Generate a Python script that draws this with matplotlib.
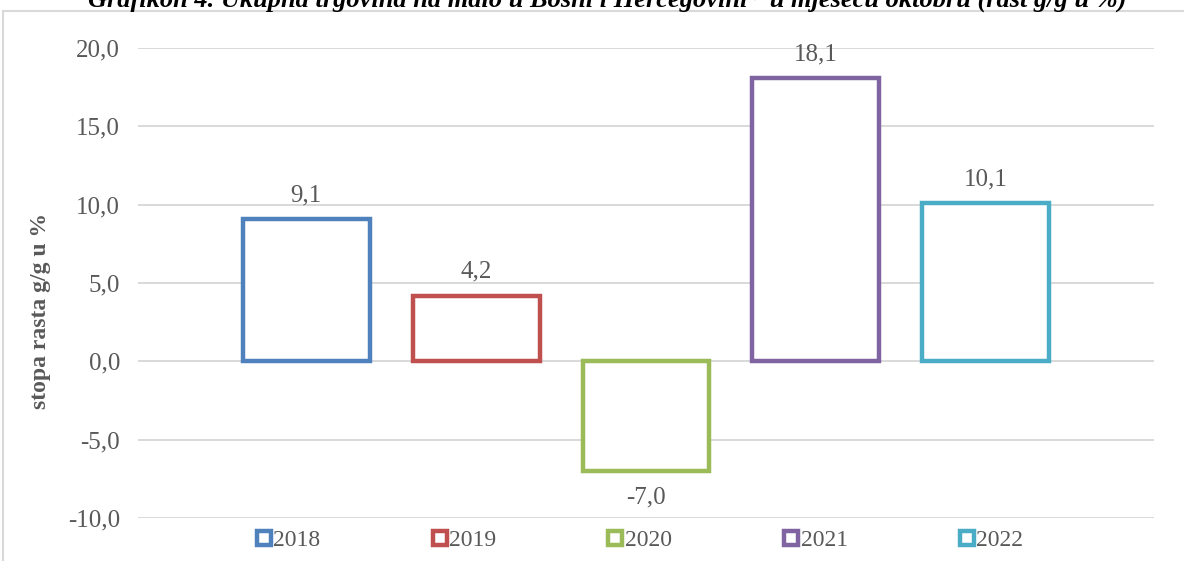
import numpy as np
import matplotlib.pyplot as plt
from matplotlib.patches import Rectangle
from matplotlib.lines import Line2D

years = ['2018', '2019', '2020', '2021', '2022']
values = [9.1, 4.2, -7.0, 18.1, 10.1]
colors = ['#4F81BD', '#C0504D', '#9BBB59', '#8064A2', '#4BACC6']
yticks = [-10, -5, 0, 5, 10, 15, 20]

plt.rcParams['font.family'] = ['Liberation Serif', 'DejaVu Serif']
grey = '#595959'

fig = plt.figure(figsize=(11.84, 5.61), dpi=100)
ax = fig.add_axes([138/1184, 1-518/561, (1154-138)/1184, (518-48)/561])

x = np.arange(len(years))
ax.bar(x, values, width=0.747, color='white', edgecolor=colors, linewidth=3.2, zorder=3)

# value labels above / below the bars
for xi, v in zip(x, values):
    off = 17 if v >= 0 else -19
    ax.annotate(f'{v:.1f}'.replace('.', ','), (xi, v), xytext=(0, off),
                textcoords='offset points', ha='center', va='center',
                fontsize=18, color=grey)

ax.set_xlim(-0.99, 4.99)
ax.set_ylim(-10, 20)
ax.set_yticks(yticks)
ax.set_yticklabels([f'{t:.1f}'.replace('.', ',') for t in yticks], fontsize=18, color=grey)
ax.set_xticks([])
ax.tick_params(axis='y', length=0, pad=13)
ax.grid(axis='y', color='#D9D9D9', linewidth=1.4, zorder=0)
for s in ax.spines.values():
    s.set_visible(False)
ax.set_ylabel('stopa rasta g/g u %', fontsize=17, fontweight='bold', color=grey)
ax.yaxis.set_label_coords(41/1184, 1-311/561, transform=fig.transFigure)
ax.yaxis.label.set_va('center')

handles = [Line2D([], [], linestyle='none', marker='s', markersize=10,
                  markerfacecolor='white', markeredgecolor=c, markeredgewidth=3.2)
           for c in colors]
fig.legend(handles, years, loc='center', bbox_to_anchor=(640/1184, 1-540/561), ncol=5,
           frameon=False, fontsize=17, labelcolor=grey, handlelength=0.6,
           handletextpad=0.1, columnspacing=4.75)

# outer chart frame
fig.patches.append(Rectangle((3/1184, -0.1), 1.2, 1.1 - 11/561,
                             transform=fig.transFigure, fill=False,
                             edgecolor='#D9D9D9', linewidth=1.5))

fig.text(607/1184, 1-7/561,
         'Grafikon 4. Ukupna trgovina na malo u Bosni i Hercegovini\u00b9\u207e u mjesecu oktobru (rast g/g u %)',
         ha='center', va='baseline', fontsize=19, fontweight='bold', fontstyle='italic')

fig.savefig('out.png', dpi=100)
